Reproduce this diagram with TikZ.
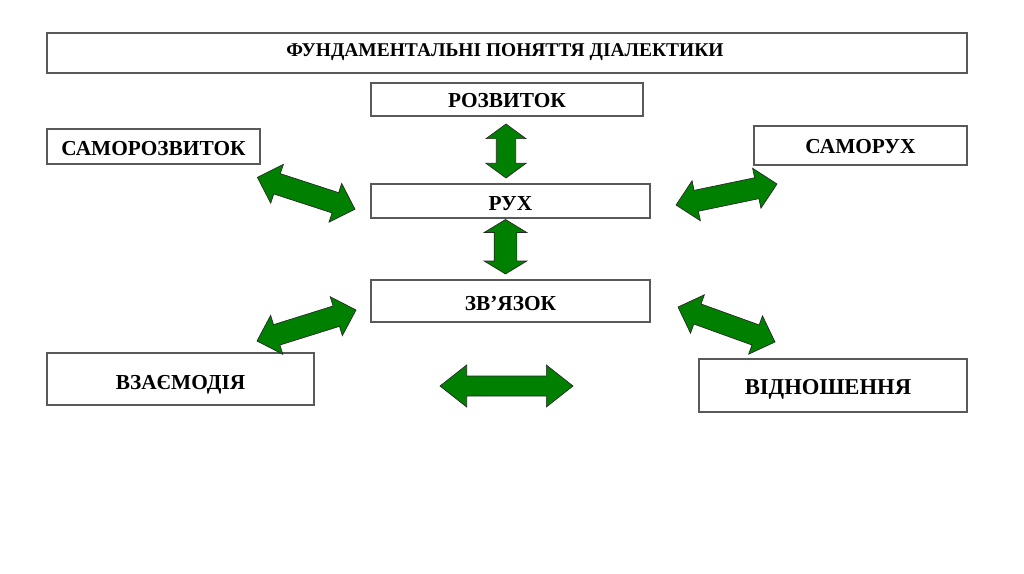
\documentclass[tikz,border=0pt]{standalone}
\usepackage{fontspec}
\setmainfont{Liberation Serif}
\usetikzlibrary{calc}
\tikzset{
  box/.style={draw=black!65, line width=1.2pt, fill=white, inner sep=0pt},
  lbl/.style={inner sep=0pt, anchor=base, font=\bfseries\fontsize{16}{18}\selectfont},
  arr/.style={fill=green!50!black, draw=black!85, line width=0.5pt, line join=miter},
}
\newcommand\dblarr[5]{%
  \filldraw[arr] (#1)
   -- ($(#1)!#3!(#2)!#4!90:(#2)$)
   -- ($(#1)!#3!(#2)!#5!90:(#2)$)
   -- ($(#2)!#3!(#1)!#5!-90:(#1)$)
   -- ($(#2)!#3!(#1)!#4!-90:(#1)$)
   -- (#2)
   -- ($(#2)!#3!(#1)!#4!90:(#1)$)
   -- ($(#2)!#3!(#1)!#5!90:(#1)$)
   -- ($(#1)!#3!(#2)!#5!-90:(#2)$)
   -- ($(#1)!#3!(#2)!#4!-90:(#2)$)
   -- cycle;}
\begin{document}
\begin{tikzpicture}[x=0.75pt,y=-0.75pt]
\useasboundingbox[fill=white] (0,0) rectangle (1024,574);
% boxes
\node[box, minimum width=920*0.75pt, minimum height=40*0.75pt] (title) at (507,53) {};
\node[lbl, font=\bfseries\fontsize{14.6}{17}\selectfont] (titlet) at (505,56.1) {ФУНДАМЕНТАЛЬНІ ПОНЯТТЯ ДІАЛЕКТИКИ};
\node[box, minimum width=272*0.75pt, minimum height=33*0.75pt] (rozv) at (507,99.5) {};
\node[lbl] (rozvt) at (507,108) {РОЗВИТОК};
\node[box, minimum width=213*0.75pt, minimum height=35*0.75pt] (samorozv) at (153.5,146.5) {};
\node[lbl] (samorozvt) at (153.5,155.3) {САМОРОЗВИТОК};
\node[box, minimum width=213*0.75pt, minimum height=39*0.75pt] (samoruh) at (860.5,145.5) {};
\node[lbl] (samoruht) at (860.5,154) {САМОРУХ};
\node[box, minimum width=279*0.75pt, minimum height=34*0.75pt] (ruh) at (510.5,201) {};
\node[lbl] (ruht) at (510.5,210.5) {РУХ};
\node[box, minimum width=279*0.75pt, minimum height=42*0.75pt] (zv) at (510.5,301) {};
\node[lbl] (zvt) at (510.5,310.5) {ЗВ’ЯЗОК};
\node[box, minimum width=267*0.75pt, minimum height=52*0.75pt] (vz) at (180.5,379) {};
\node[lbl] (vzt) at (180.5,389) {ВЗАЄМОДІЯ};
\node[box, minimum width=268*0.75pt, minimum height=53*0.75pt] (vidn) at (833,385.5) {};
\node[lbl, font=\bfseries\fontsize{17}{19}\selectfont] (vidnt) at (828,394.5) {ВІДНОШЕННЯ};
% arrow end points
\coordinate (v1a) at (506,124); \coordinate (v1b) at (506,178);
\coordinate (v2a) at (505.5,219.5); \coordinate (v2b) at (505.5,274);
\coordinate (d1a) at (257.4,177.4); \coordinate (d1b) at (355,209.2);
\coordinate (d2a) at (676,205); \coordinate (d2b) at (777,184);
\coordinate (d3a) at (257,341); \coordinate (d3b) at (356,310);
\coordinate (d4a) at (678,307); \coordinate (d4b) at (775,342);
\coordinate (ha) at (440,386); \coordinate (hb) at (573,386);
% arrows
\dblarr{v1a}{v1b}{11pt}{15pt}{7.3pt}
\dblarr{v2a}{v2b}{9.75pt}{16pt}{8.5pt}
\dblarr{d1a}{d1b}{15.5pt}{15.3pt}{8pt}
\dblarr{d2a}{d2b}{15.5pt}{15.3pt}{8pt}
\dblarr{d3a}{d3b}{15.5pt}{15.3pt}{8pt}
\dblarr{d4a}{d4b}{15.5pt}{15.3pt}{8pt}
\dblarr{ha}{hb}{20pt}{15.75pt}{7.5pt}
\end{tikzpicture}
\end{document}
